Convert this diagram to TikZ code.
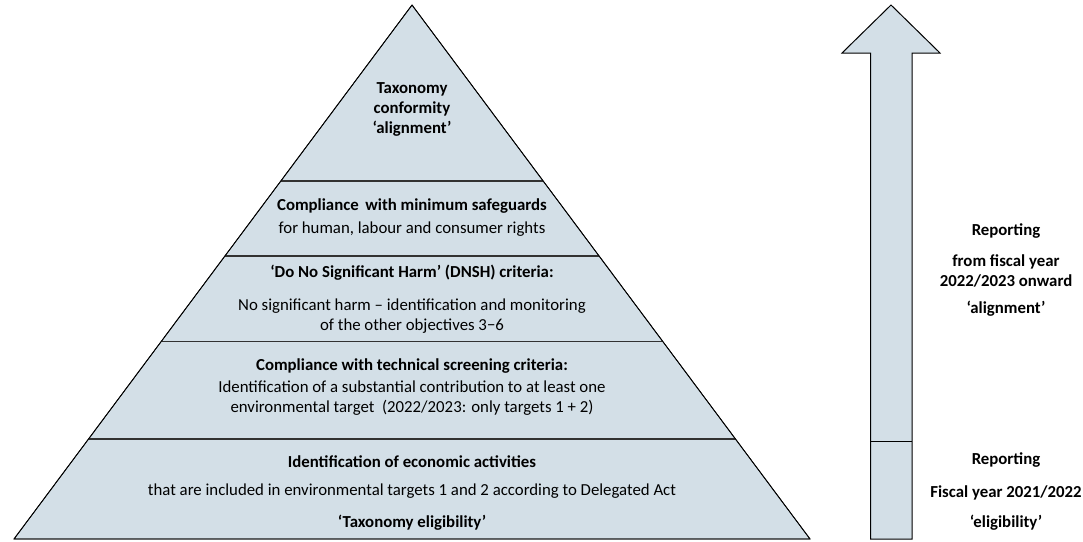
\documentclass[tikz,border=0pt]{standalone}
\usepackage{fontspec}
\setmainfont{Carlito}
\definecolor{pyrfill}{RGB}{211,223,231}
\definecolor{bandline}{RGB}{50,50,50}
\begin{document}
\begin{tikzpicture}[x=1pt,y=-1pt,
  txt/.style={font=\fontsize{16.8}{20}\selectfont, align=center, inner sep=0pt, anchor=center},
  btxt/.style={txt, font=\fontsize{16.8}{20}\selectfont\bfseries},
  outline/.style={draw=black, line width=0.8pt, fill=pyrfill},
  divider/.style={draw=bandline, line width=1.4pt}]
\useasboundingbox (0,0) rectangle (1083,541);
% pyramid
\coordinate (apex) at (412,5);
\coordinate (bl) at (14,539);
\coordinate (br) at (810,539);
\path[outline] (apex) -- (br) -- (bl) -- cycle;
\coordinate (l1) at (280.8,181); \coordinate (r1) at (543.2,181);
\coordinate (l2) at (224.9,256); \coordinate (r2) at (599.1,256);
\coordinate (l3) at (161.2,341.5); \coordinate (r3) at (662.8,341.5);
\coordinate (l4) at (88.5,439); \coordinate (r4) at (735.5,439);
\draw[divider] (l1) -- (r1);
\draw[divider] (l2) -- (r2);
\draw[divider] (l3) -- (r3);
\draw[divider] (l4) -- (r4);
\path[draw=black, line width=0.8pt] (apex) -- (br) (apex) -- (bl) (bl) -- (br);
% pyramid texts
\node[btxt] (t1) at (412,109) {Taxonomy\\conformity\\‘alignment’};
\node[btxt] (t2a) at (412,206) {Compliance\, with minimum safeguards};
\node[txt] (t2b) at (412,229) {for human, labour and consumer rights};
\node[btxt] (t3a) at (412,273) {‘Do No Significant Harm’ (DNSH) criteria:};
\node[txt] (t3b) at (412,316) {No significant harm – identification and monitoring\\of the other objectives 3−6};
\node[btxt] (t4a) at (412,366) {Compliance with technical screening criteria:};
\node[txt] (t4b) at (412,398) {Identification of a substantial contribution to at least one\\environmental target\ \ (2022/2023: only targets 1 + 2)};
\node[btxt] (t5a) at (412,462) {Identification of economic activities};
\node[txt] (t5b) at (412,491) {that are included in environmental targets 1 and 2 according to Delegated Act};
\node[btxt] (t5c) at (412,523) {‘Taxonomy eligibility’};
% arrow
\coordinate (tip) at (891,5);
\coordinate (hl) at (842,53); \coordinate (hr) at (940,53);
\coordinate (sl) at (870.5,53); \coordinate (sr) at (912,53);
\coordinate (bl2) at (870.5,539); \coordinate (br2) at (912,539);
\coordinate (dl) at (870.5,441); \coordinate (dr) at (912,441);
\path[outline, line width=1pt] (tip) -- (hr) -- (sr) -- (br2) -- (bl2) -- (sl) -- (hl) -- cycle;
\draw[black, line width=1pt] (dl) -- (dr);
% arrow texts
\node[btxt] (r1a) at (1006,231) {Reporting};
\node[btxt] (r1b) at (1006,271) {from fiscal year\\2022/2023 onward};
\node[btxt] (r1c) at (1006,309) {‘alignment’};
\node[btxt] (r2a) at (1006,460) {Reporting};
\node[btxt] (r2b) at (1006,493) {Fiscal year 2021/2022};
\node[btxt] (r2c) at (1006,523) {‘eligibility’};
\end{tikzpicture}
\end{document}
